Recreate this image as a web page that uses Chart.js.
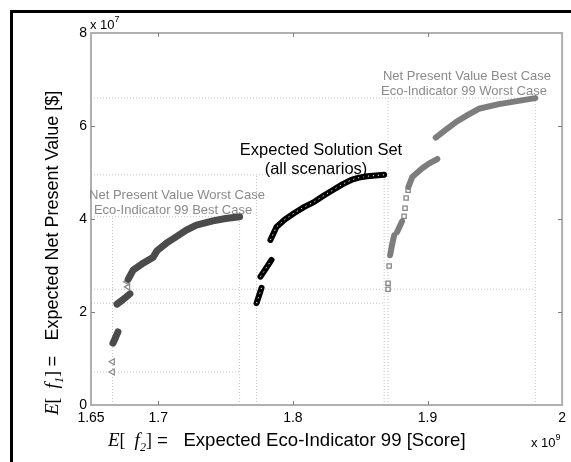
<!DOCTYPE html>
<html lang="en">
<head>
<meta charset="UTF-8">
<title>Expected Solution Set</title>
<script src="https://cdn.jsdelivr.net/npm/chart.js"></script>
<style>
    html, body { margin: 0; padding: 0; background: #fff; }
    #wrap { position: relative; width: 571px; height: 462px; overflow: hidden; }
    #frame { position: absolute; left: 10px; top: 10px; width: 600px; height: 500px;
             border-top: 3px solid #000; border-left: 3px solid #000; pointer-events: none; }
</style>
</head>
<body>
<div id="wrap">
    <canvas id="chart" width="571" height="462"></canvas>
    <div id="frame"></div>
</div>
<script>
// x values in units of 1e9 (Eco-Indicator 99 score), y values in units of 1e7 ($)
const xTicks = [1.65, 1.7, 1.8, 1.9, 2];
const yTicks = [0, 2, 4, 6, 8];

// NPV worst case / Eco-Indicator 99 best case (null = gap between point runs)
const worstX = [1.6663, 1.6678, 1.6700, null,
                1.6693, 1.6740, 1.6789, null,
                1.6776, 1.6813, 1.6887, 1.6962, 1.6991, 1.7060, 1.7135, 1.7208, 1.7283, 1.7406, 1.7500, 1.7604];
const worstY = [1.33, 1.42, 1.57, null,
                2.17, 2.27, 2.39, null,
                2.70, 2.90, 3.05, 3.18, 3.32, 3.48, 3.62, 3.76, 3.87, 3.96, 4.01, 4.05];
const worstLoneX = [1.6660, 1.6660, 1.6774, 1.6767];
const worstLoneY = [0.71, 0.93, 2.54, 2.65];

// expected solution set (all scenarios)
const expX = [1.7730, 1.7748, 1.7767, null,
              1.7759, 1.7800, 1.7841, null,
              1.7833, 1.7878, 1.7940, 1.8011, 1.8085, 1.8159, 1.8233, 1.8307, 1.8370, 1.8433, 1.8490, 1.8552, 1.8678];
const expY = [2.19, 2.35, 2.52, null,
              2.76, 2.94, 3.12, null,
              3.55, 3.83, 3.99, 4.13, 4.26, 4.37, 4.51, 4.64, 4.75, 4.84, 4.89, 4.92, 4.95];

// NPV best case / Eco-Indicator 99 worst case
const bestX = [1.8722, 1.8737, 1.8752, null,
               1.8774, 1.8795, 1.8811, null,
               1.8858, 1.8888, 1.8961, 1.9010, 1.9073, null,
               1.9061, 1.9137, 1.9209, 1.9300, 1.9381, 1.9530, 1.9801];
const bestY = [3.22, 3.45, 3.65, null,
               3.72, 3.85, 3.95, null,
               4.69, 4.91, 5.09, 5.19, 5.29, null,
               5.75, 5.92, 6.08, 6.24, 6.37, 6.47, 6.60];
const bestLoneX = [1.8707, 1.8707, 1.8715, 1.8826, 1.8833, 1.8841, 1.8856];
const bestLoneY = [2.49, 2.62, 2.99, 4.06, 4.23, 4.45, 4.62];

const pts = (xs, ys) => xs.map((x, i) => ({ x: x, y: ys[i] }));

// dotted guide lines from the axes to the extremes of each group
function guides(xs, ys) {
    const gx = xs.filter(v => v !== null), gy = ys.filter(v => v !== null);
    const x0 = Math.min(...gx), x1 = Math.max(...gx);
    const y0 = Math.min(...gy), y1 = Math.max(...gy);
    return [
        { x: xTicks[0], y: y0 }, { x: x1, y: y0 }, { x: null, y: null },
        { x: xTicks[0], y: y1 }, { x: x1, y: y1 }, { x: null, y: null },
        { x: x0, y: 0 }, { x: x0, y: y1 }, { x: null, y: null },
        { x: x1, y: 0 }, { x: x1, y: y1 }, { x: null, y: null }
    ];
}

const guideData = [].concat(
    guides(worstX.concat(worstLoneX), worstY.concat(worstLoneY)),
    guides(expX, expY),
    guides(bestX.concat(bestLoneX), bestY.concat(bestLoneY))
);

const sans = '"Liberation Sans", Arial, sans-serif';
const serif = '"Liberation Serif", "Times New Roman", serif';

function drawRuns(ctx, runs, x, y) {
    runs.forEach(r => {
        ctx.font = r.font;
        ctx.fillText(r.t, x, y + (r.dy || 0));
        x += ctx.measureText(r.t).width;
    });
}

function axisRuns(sub, text, size) {
    return [
        { t: 'E', font: 'italic 19px ' + serif },
        { t: '[  ', font: '18px ' + serif },
        { t: 'f', font: 'italic 19px ' + serif },
        { t: sub, font: 'italic 12px ' + serif, dy: 5 },
        { t: ']', font: '18px ' + serif },
        { t: text, font: size + 'px ' + sans }
    ];
}

const notes = [
    { t: 'Net Present Value Worst Case', x: 177, y: 195, c: '#8a8a8a', f: '13px ' + sans },
    { t: 'Eco-Indicator 99 Best Case', x: 173, y: 210, c: '#8a8a8a', f: '13px ' + sans },
    { t: 'Expected Solution Set', x: 321, y: 150, c: '#000', f: '16.5px ' + sans },
    { t: '(all scenarios)', x: 316, y: 169, c: '#000', f: '16.5px ' + sans },
    { t: 'Net Present Value Best Case', x: 467, y: 76, c: '#8a8a8a', f: '13px ' + sans },
    { t: 'Eco-Indicator 99 Worst Case', x: 464, y: 91, c: '#8a8a8a', f: '13px ' + sans }
];

const decor = {
    id: 'decor',
    afterDatasetsDraw(chart) {
        const { ctx, chartArea: a, scales: { x, y } } = chart;
        ctx.save();
        ctx.strokeStyle = '#b0b0b0';
        ctx.lineWidth = 2;
        ctx.strokeRect(a.left, a.top, a.right - a.left, a.bottom - a.top);
        ctx.strokeStyle = '#808080';
        ctx.lineWidth = 1;
        ctx.beginPath();
        xTicks.slice(1, -1).forEach(v => {
            const p = Math.round(x.getPixelForValue(v)) + 0.5;
            ctx.moveTo(p, a.bottom); ctx.lineTo(p, a.bottom - 4);
            ctx.moveTo(p, a.top); ctx.lineTo(p, a.top + 4);
        });
        yTicks.slice(1, -1).forEach(v => {
            const p = Math.round(y.getPixelForValue(v)) + 0.5;
            ctx.moveTo(a.left, p); ctx.lineTo(a.left + 4, p);
            ctx.moveTo(a.right, p); ctx.lineTo(a.right - 4, p);
        });
        ctx.stroke();
        ctx.restore();
    },
    afterDraw(chart) {
        const ctx = chart.ctx;
        ctx.save();
        ctx.textBaseline = 'middle';
        ctx.textAlign = 'center';
        notes.forEach(n => {
            ctx.font = n.f;
            ctx.fillStyle = n.c;
            ctx.fillText(n.t, n.x, n.y);
        });

        ctx.textAlign = 'left';
        ctx.textBaseline = 'alphabetic';
        ctx.fillStyle = '#000';
        // axis titles
        drawRuns(ctx, axisRuns('2', ' =   Expected Eco-Indicator 99 [Score]', 18.6), 108, 446);
        ctx.save();
        ctx.translate(58, 415);
        ctx.rotate(-Math.PI / 2);
        drawRuns(ctx, axisRuns('1', ' =   Expected Net Present Value [$]', 18), 0, 0);
        ctx.restore();

        // exponent labels
        drawRuns(ctx, [{ t: 'x 10', font: '13px ' + sans }, { t: '7', font: '9px ' + sans, dy: -7 }], 90, 29);
        drawRuns(ctx, [{ t: 'x 10', font: '13px ' + sans }, { t: '9', font: '9px ' + sans, dy: -7 }], 531, 447);
        ctx.restore();
    }
};

new Chart(document.getElementById('chart'), {
    type: 'scatter',
    data: {
        datasets: [
            {   // hollow centres of the expected-set circles
                data: pts(expX, expY), showLine: true, spanGaps: false,
                borderColor: '#ffffff', borderWidth: 1, borderDash: [1.2, 3.8],
                pointRadius: 0, order: 0
            },
            {
                data: pts(expX, expY), showLine: true, spanGaps: false,
                borderColor: '#000000', borderWidth: 6, borderCapStyle: 'round', borderJoinStyle: 'round',
                pointRadius: 0, order: 1
            },
            {
                data: pts(worstX, worstY), showLine: true, spanGaps: false,
                borderColor: '#4b4b4b', borderWidth: 7, borderCapStyle: 'round', borderJoinStyle: 'round',
                pointRadius: 0, order: 2
            },
            {
                data: pts(worstLoneX, worstLoneY), pointStyle: 'triangle', pointRotation: -90,
                pointRadius: 3.5, borderWidth: 1.2, borderColor: '#8a8a8a', backgroundColor: '#ffffff', order: 2
            },
            {
                data: pts(bestX, bestY), showLine: true, spanGaps: false,
                borderColor: '#7d7d7d', borderWidth: 6, borderCapStyle: 'round', borderJoinStyle: 'round',
                pointRadius: 0, order: 3
            },
            {
                data: pts(bestLoneX, bestLoneY), pointStyle: 'rect',
                pointRadius: 3, borderWidth: 1.3, borderColor: '#858585', backgroundColor: '#ffffff', order: 3
            },
            {
                data: guideData, showLine: true, spanGaps: false,
                borderColor: '#c4c4c4', borderWidth: 1, borderDash: [1, 2],
                pointRadius: 0, order: 10
            }
        ]
    },
    options: {
        responsive: false,
        animation: false,
        events: [],
        layout: { padding: { left: 0, top: 33, right: 8, bottom: 0 } },
        plugins: { legend: { display: false }, tooltip: { enabled: false } },
        scales: {
            x: {
                type: 'linear', min: xTicks[0], max: xTicks[xTicks.length - 1],
                afterBuildTicks: s => { s.ticks = xTicks.map(v => ({ value: v })); },
                afterFit: s => { s.height = 57; },
                grid: { display: false, drawTicks: false },
                border: { display: false },
                ticks: { padding: 5, color: '#000', font: { family: sans, size: 14 }, callback: v => String(v), maxRotation: 0 }
            },
            y: {
                type: 'linear', min: yTicks[0], max: yTicks[yTicks.length - 1],
                afterBuildTicks: s => { s.ticks = yTicks.map(v => ({ value: v })); },
                afterFit: s => { s.width = 91; },
                grid: { display: false, drawTicks: false },
                border: { display: false },
                ticks: { padding: 4, color: '#000', font: { family: sans, size: 14 }, callback: v => String(v) }
            }
        }
    },
    plugins: [decor]
});
</script>
</body>
</html>
